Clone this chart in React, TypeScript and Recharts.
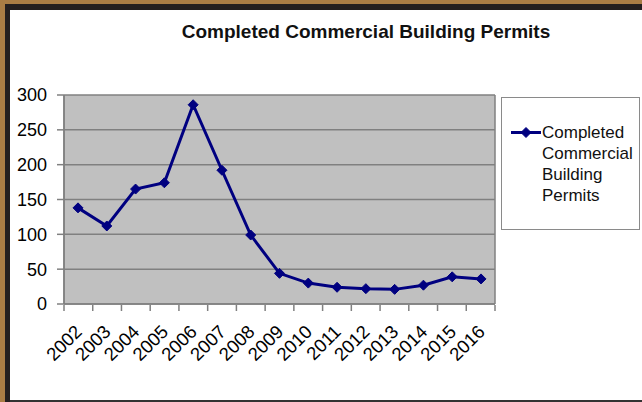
import React from "react";
import {
  LineChart,
  Line,
  XAxis,
  YAxis,
  CartesianGrid,
  Legend,
} from "recharts";

// years on the category axis
const years = [
  "2002", "2003", "2004", "2005", "2006", "2007", "2008", "2009",
  "2010", "2011", "2012", "2013", "2014", "2015", "2016",
];

// completed commercial building permits per year
const permits = [138, 112, 165, 174, 286, 192, 99, 44, 30, 24, 22, 21, 27, 39, 36];

const yTicks = [0, 50, 100, 150, 200, 250, 300];

const seriesName = "Completed Commercial Building Permits";

const data = years.map((year, i) => ({ year, permits: permits[i], slot: i + 0.5 }));
const boundaryTicks = years.map((_, i) => i).concat(years.length);

const FONT = "'Liberation Sans', Arial, sans-serif";
const NAVY = "#000080";
const GRID = "#808080";

const Diamond = (props: any) => {
  const { cx, cy } = props;
  if (cx == null || cy == null) return null;
  const r = 5;
  return (
    <polygon
      points={`${cx},${cy - r} ${cx + r},${cy} ${cx},${cy + r} ${cx - r},${cy}`}
      fill={NAVY}
      stroke={NAVY}
    />
  );
};

const YearTick = (props: any) => {
  const { x, y, payload } = props;
  return (
    <text
      x={0}
      y={0}
      transform={`translate(${x + 5},${y + 29}) rotate(-45)`}
      textAnchor="end"
      fontSize={18.5}
      fontFamily={FONT}
      fill="#000"
    >
      {payload.value}
    </text>
  );
};

const NoLabel = () => <g />;

const LegendBox = (props: any) => {
  const item = props.payload && props.payload[0];
  return (
    <div
      style={{
        width: 139,
        height: 133,
        boxSizing: "border-box",
        border: "1px solid #8a8a8a",
        background: "#fff",
        display: "flex",
        alignItems: "flex-start",
        paddingTop: 24,
        paddingLeft: 8,
      }}
    >
      <svg width={32} height={21} style={{ flex: "none" }}>
        <line x1={1} y1={10.5} x2={31} y2={10.5} stroke={NAVY} strokeWidth={3} />
        <Diamond cx={16} cy={10.5} />
      </svg>
      <div
        style={{
          width: 98,
          fontSize: 17,
          lineHeight: "21px",
          fontFamily: FONT,
          color: "#111",
          textAlign: "left",
        }}
      >
        {item ? item.value : seriesName}
      </div>
    </div>
  );
};

export default function App() {
  return (
    <div
      style={{
        position: "absolute",
        left: 0,
        top: 0,
        width: 642,
        height: 402,
        background: "#fff",
        overflow: "hidden",
      }}
    >
      {/* picture frame */}
      <div style={{ position: "absolute", left: 0, top: 0, width: 642, height: 10, background: "#231f1f" }} />
      <div style={{ position: "absolute", left: 0, top: 0, width: 10, height: 402, background: "#231f1f" }} />
      <div style={{ position: "absolute", left: 0, top: 0, width: 642, height: 4, background: "#a97d45" }} />
      <div style={{ position: "absolute", left: 0, top: 0, width: 5, height: 402, background: "#a97d45" }} />
      <div style={{ position: "absolute", left: 10, top: 400, width: 632, height: 2, background: "#333" }} />

      <div
        style={{
          position: "absolute",
          left: 170,
          top: 21,
          width: 392,
          textAlign: "center",
          fontFamily: FONT,
          fontWeight: "bold",
          fontSize: 19,
          color: "#111",
          whiteSpace: "nowrap",
        }}
      >
        {seriesName}
      </div>

      <div style={{ position: "absolute", left: 0, top: 0 }}>
        <LineChart
          width={642}
          height={402}
          data={data}
          margin={{ top: 95, right: 147, bottom: 96, left: 14 }}
        >
          <CartesianGrid
            fill="#c0c0c0"
            stroke={GRID}
            strokeWidth={1.5}
            verticalCoordinatesGenerator={({ offset }: any) => [
              offset.left,
              offset.left + offset.width,
            ]}
          />
          <XAxis
            dataKey="year"
            height={1}
            padding={{ left: 14, right: 14 }}
            interval={0}
            tickSize={0}
            tickMargin={0}
            tickLine={false}
            axisLine={{ stroke: GRID, strokeWidth: 1.5 }}
            tick={<YearTick />}
          />
          <XAxis
            xAxisId="bounds"
            dataKey="slot"
            type="number"
            domain={[0, years.length]}
            ticks={boundaryTicks}
            interval={0}
            height={1}
            tick={<NoLabel />}
            tickSize={6}
            tickLine={{ stroke: GRID, strokeWidth: 1.5 }}
            axisLine={false}
            allowDataOverflow
          />
          <YAxis
            width={50}
            domain={[0, 300]}
            ticks={yTicks}
            interval={0}
            tickSize={7}
            tickMargin={10}
            tickLine={{ stroke: GRID, strokeWidth: 1.5 }}
            axisLine={{ stroke: GRID, strokeWidth: 1.5 }}
            tick={{ fontSize: 18, fontFamily: FONT, fill: "#000" }}
          />
          <Legend
            layout="vertical"
            align="center"
            verticalAlign="middle"
            wrapperStyle={{ left: 501, top: 97, width: 139, height: 133 }}
            content={<LegendBox />}
          />
          <Line
            type="linear"
            dataKey="permits"
            name={seriesName}
            stroke={NAVY}
            strokeWidth={3}
            dot={<Diamond />}
            activeDot={false}
            isAnimationActive={false}
          />
        </LineChart>
      </div>
    </div>
  );
}
